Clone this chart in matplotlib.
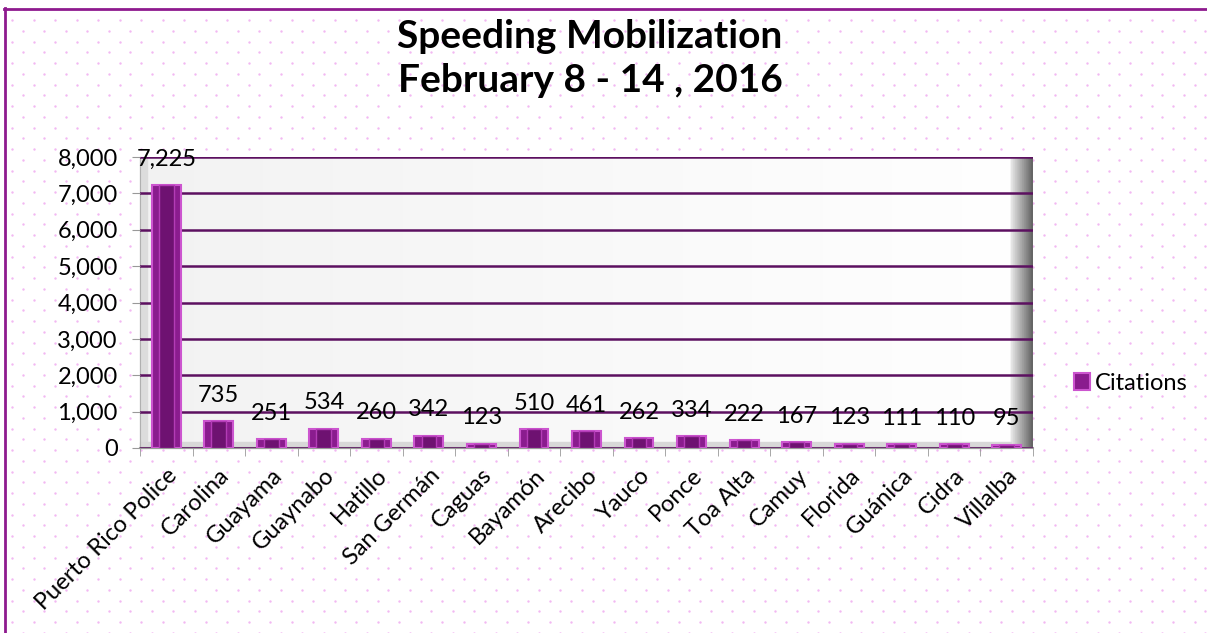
import numpy as np
import matplotlib.pyplot as plt
from matplotlib.patches import Rectangle
from matplotlib.ticker import FuncFormatter

plt.rcParams['font.family'] = ['Lato', 'DejaVu Sans']

# data
regions = ['Puerto Rico Police', 'Carolina', 'Guayama', 'Guaynabo', 'Hatillo',
           'San Germán', 'Caguas', 'Bayamón', 'Arecibo', 'Yauco', 'Ponce',
           'Toa Alta', 'Camuy', 'Florida', 'Guánica', 'Cidra', 'Villalba']
citations = [7225, 735, 251, 534, 260, 342, 123, 510, 461, 262, 334,
             222, 167, 123, 111, 110, 95]
y_ticks = [0, 1000, 2000, 3000, 4000, 5000, 6000, 7000, 8000]

W, H = 1207, 633
fig = plt.figure(figsize=(W / 100, H / 100), dpi=100)
fig.patch.set_facecolor('white')

# dotted background pattern + purple frame (decoration)
bg = fig.add_axes([0, 0, 1, 1], zorder=-10)
bg.set_xlim(0, W)
bg.set_ylim(H, 0)
bg.axis('off')
xs, ys = [], []
for r, yy in enumerate(np.arange(20, H, 10.75)):
    off = 0 if r % 2 == 0 else 10.75
    for xx in np.arange(12 + off, W, 21.5):
        xs.append(xx)
        ys.append(yy)
bg.scatter(xs, ys, s=3, color='#f2b8f2', linewidths=0)
bg.plot([4, W], [8.5, 8.5], color='#8e1a8e', lw=2)
bg.plot([4.5, 4.5], [8, H], color='#8e1a8e', lw=2)

# plot area
x0, x1, y0, y1 = 140, 1033, 157, 448
ax = fig.add_axes([x0 / W, 1 - y1 / H, (x1 - x0) / W, (y1 - y0) / H])
n = len(regions)
x = np.arange(n)

# back wall gradient with a shadow on the right edge
g = np.linspace(0, 1, 400)
grad = 0.95 + 0.05 * g
grad = np.where(g > 0.975, 0.95 - (g - 0.975) / 0.025 * 0.55, grad)
grad = grad.reshape(1, -1)
ax.imshow(np.dstack([grad, grad, grad]), extent=[0, 1, 0, 1],
          transform=ax.transAxes, aspect='auto', zorder=0)
ax.add_patch(Rectangle((0, 0), 0.008, 1, transform=ax.transAxes,
                       color='#dcdcdc', zorder=1, clip_on=False))
ax.add_patch(Rectangle((0, 0), 0.975, 0.02, transform=ax.transAxes,
                       color='#d8d8d8', zorder=1, clip_on=False))

ax.set_xlim(-0.5, n - 0.5)
ax.set_ylim(0, 8000)
ax.set_yticks(y_ticks)
ax.yaxis.set_major_formatter(FuncFormatter(lambda v, p: f'{int(v):,}'))
ax.grid(axis='y', color='#5c1060', lw=1.8, zorder=2)
ax.set_axisbelow(False)

bars = ax.bar(x, citations, width=0.55, color='#8a1c8e',
              edgecolor='#cc55cf', lw=1.5, zorder=3)
ax.bar(x, citations, width=0.28, color='#6e1271', edgecolor='#b33cb6',
       lw=1, zorder=4)

for xi, v in zip(x, citations):
    ax.annotate(f'{v:,}', (xi, v), xytext=(0, 11), textcoords='offset points',
                ha='center', va='bottom', fontsize=17, color='black', zorder=6,
                annotation_clip=False)

ax.set_xticks(x)
ax.set_xticklabels(regions, rotation=45, ha='right', va='top',
                   rotation_mode='anchor', fontsize=17)
ax.set_xticks(np.arange(-0.5, n), minor=True)
ax.tick_params(axis='x', which='major', length=0, pad=12)
ax.tick_params(axis='x', which='minor', length=6, color='#999999')
ax.tick_params(axis='y', length=6, color='#999999', labelsize=17, pad=10)

for s in ['top', 'right']:
    ax.spines[s].set_visible(False)
ax.spines['left'].set_color('#b0b0b0')
ax.spines['bottom'].set_color('#9a9a9a')
ax.spines['bottom'].set_linewidth(1.5)

fig.text(590 / W, 1 - 37 / H, 'Speeding Mobilization', ha='center',
         va='center', fontsize=28, fontweight='bold')
fig.text(590 / W, 1 - 80 / H, 'February 8 - 14 , 2016', ha='center',
         va='center', fontsize=28, fontweight='bold')

# legend
leg = ax.legend([bars], ['Citations'], loc='center left',
                bbox_to_anchor=(1062 / W, 1 - 383 / H),
                bbox_transform=fig.transFigure, frameon=False, fontsize=17,
                handlelength=0.7, handleheight=0.7, handletextpad=0.2,
                borderpad=0)

fig.savefig('out.png', dpi=100)
